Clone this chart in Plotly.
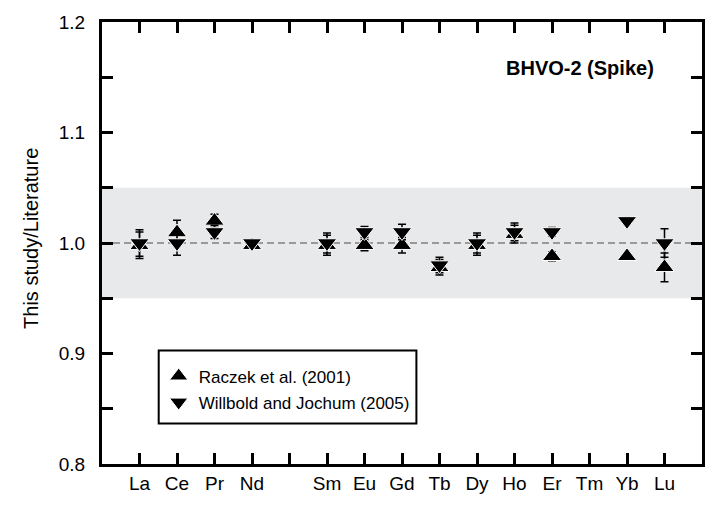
import plotly.graph_objects as go

# Rare earth elements along the x axis (Pm has no data and no label)
elements = ["La", "Ce", "Pr", "Nd", "Pm", "Sm", "Eu", "Gd", "Tb", "Dy", "Ho", "Er", "Tm", "Yb", "Lu"]
tick_labels = ["La", "Ce", "Pr", "Nd", "", "Sm", "Eu", "Gd", "Tb", "Dy", "Ho", "Er", "Tm", "Yb", "Lu"]
positions = list(range(1, len(elements) + 1))

# This study / literature ratios
raczek_2001 = [0.998, 1.0095, 1.020, 0.998, None, 0.998, 0.998, 0.998, 0.978, 0.998, 1.008, 0.988, None, 0.988, 0.978]
willbold_2005 = [1.000, 1.000, 1.010, 1.000, None, 1.000, 1.010, 1.010, 0.980, 1.000, 1.010, 1.010, None, 1.020, 1.000]
ratio_error = [0.012, 0.011, 0.006, 0.003, None, 0.009, 0.005, 0.007, 0.007, 0.009, 0.008, 0.004, None, 0.003, 0.013]

y_ticks = [0.8, 0.85, 0.9, 0.95, 1.0, 1.05, 1.1, 1.15, 1.2]
y_tick_labels = ["0.8", "", "0.9", "", "1.0", "", "1.1", "", "1.2"]

FONT = "Liberation Sans, Arial, Helvetica, sans-serif"

fig = go.Figure()

err_style = dict(type="data", array=ratio_error, visible=True,
                 color="black", thickness=1.5, width=4)

fig.add_trace(go.Scatter(
    x=positions, y=raczek_2001, mode="markers", name="Raczek et al. (2001)",
    legendgroup="raczek",
    marker=dict(symbol="triangle-up", size=17, color="black",
                line=dict(color="white", width=1)),
    error_y=err_style,
))
fig.add_trace(go.Scatter(
    x=positions, y=willbold_2005, mode="markers", name="Willbold and Jochum (2005)",
    legendgroup="willbold",
    marker=dict(symbol="triangle-down", size=17, color="black",
                line=dict(color="white", width=1)),
    error_y=err_style,
))

# ±5 % band and unity reference line
fig.add_shape(type="rect", xref="x", yref="y", x0=0, x1=16, y0=0.95, y1=1.05,
              fillcolor="#e8e9eb", line=dict(width=0), layer="below")
fig.add_shape(type="line", xref="x", yref="y", x0=0, x1=16, y0=1.0, y1=1.0,
              line=dict(color="#7f7f7f", width=1.5, dash="7px,4px"), layer="below")

# Frame around the legend entries
fig.add_shape(type="rect", xref="paper", yref="paper",
              x0=0.0945, x1=0.524, y0=0.0915, y1=0.2567,
              fillcolor="white", line=dict(color="black", width=2), layer="above")

axis_common = dict(
    showline=True, linecolor="black", linewidth=3, mirror="allticks",
    ticks="inside", ticklen=11, tickwidth=2.5, tickcolor="black",
    showgrid=False, zeroline=False,
    tickfont=dict(family=FONT, size=19, color="black"),
)

fig.update_xaxes(range=[0, 16], tickmode="array", tickvals=positions,
                 ticktext=tick_labels, **axis_common)
fig.update_yaxes(range=[0.8, 1.2], tickmode="array", tickvals=y_ticks,
                 ticktext=y_tick_labels, ticklabelstandoff=10, **axis_common)

fig.add_annotation(text="<b>BHVO-2 (Spike)</b>", xref="paper", yref="paper",
                   x=0.924, y=0.895, xanchor="right", yanchor="middle",
                   showarrow=False, font=dict(family=FONT, size=20, color="black"))
fig.add_annotation(text="This study/Literature", xref="paper", yref="paper",
                   x=-0.1194, y=0.51, xanchor="center", yanchor="middle",
                   textangle=-90, showarrow=False,
                   font=dict(family=FONT, size=20, color="black"))

fig.update_layout(
    width=717, height=506,
    margin=dict(l=102, r=12, t=22, b=36),
    paper_bgcolor="white", plot_bgcolor="white",
    font=dict(family=FONT, color="black"),
    showlegend=True,
    legend=dict(x=0.0945, y=0.2388, xanchor="left", yanchor="top",
                bgcolor="rgba(0,0,0,0)", borderwidth=0, tracegroupgap=1,
                font=dict(family=FONT, size=17, color="black")),
)

fig.write_html("out.html")
